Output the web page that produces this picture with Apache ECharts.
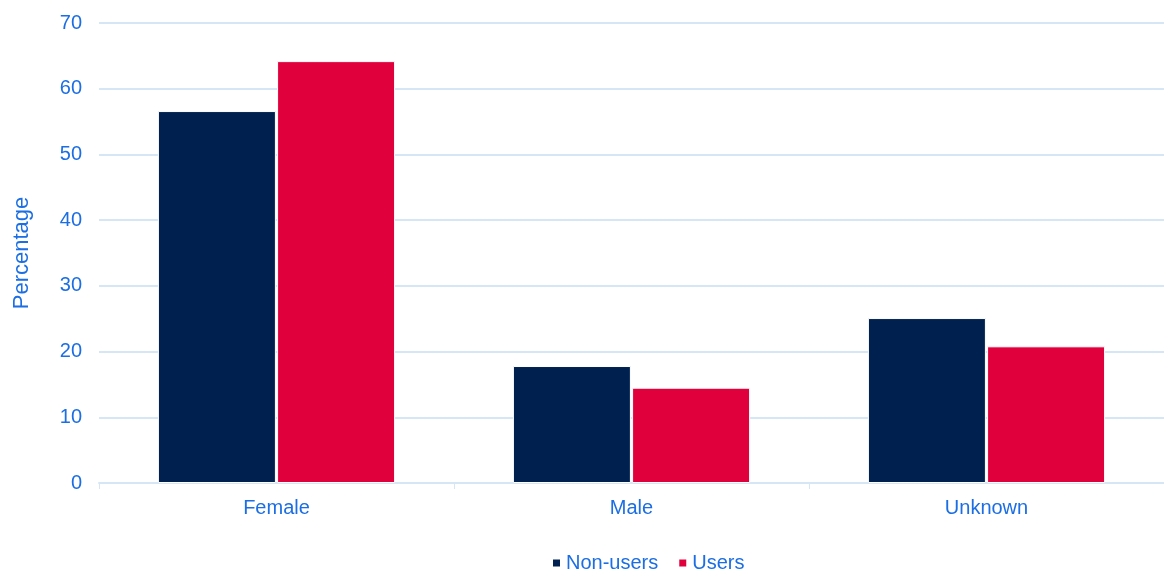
<!DOCTYPE html>
<html>
<head>
<meta charset="utf-8">
<style>
  html, body { margin: 0; padding: 0; background: #ffffff; }
  #chart { width: 1164px; height: 572px; }
</style>
<script src="https://cdn.jsdelivr.net/npm/echarts@6/dist/echarts.min.js"></script>
</head>
<body>
<div id="chart"></div>
<script>
// Gender breakdown of non-users and users (percent)
const categories = ['Female', 'Male', 'Unknown'];
const nonUsers = [56.6, 17.8, 25.1];
const users = [64.2, 14.5, 20.8];
const yTicks = { min: 0, max: 70, interval: 10 };

const textBlue = '#1b6ee3';
const gridBlue = '#d6e6f5';
const font = '"Liberation Sans", Arial, sans-serif';

const chart = echarts.init(document.getElementById('chart'), null, { renderer: 'canvas' });
chart.setOption({
  animation: false,
  textStyle: { fontFamily: font },
  grid: { left: 99, right: -3, top: 23, bottom: 89, containLabel: false },
  legend: {
    top: 548,
    left: 546,
    itemWidth: 9,
    itemHeight: 9,
    itemGap: 19,
    icon: 'rect',
    textStyle: { color: textBlue, fontSize: 20, fontFamily: font },
    data: ['Non-users', 'Users']
  },
  xAxis: {
    type: 'category',
    data: categories,
    axisLine: { show: true, lineStyle: { color: gridBlue, width: 2 } },
    axisTick: { show: true, length: 6, lineStyle: { color: gridBlue, width: 1 } },
    axisLabel: { color: textBlue, fontSize: 20, margin: 15, fontFamily: font },
    splitLine: { show: false }
  },
  yAxis: {
    type: 'value',
    min: yTicks.min,
    max: yTicks.max,
    interval: yTicks.interval,
    name: 'Percentage',
    nameLocation: 'middle',
    nameGap: 66,
    nameRotate: 90,
    nameTextStyle: { color: textBlue, fontSize: 22, fontFamily: font },
    axisLine: { show: false },
    axisTick: { show: false },
    axisLabel: { color: textBlue, fontSize: 20, margin: 17, fontFamily: font },
    splitLine: { show: true, lineStyle: { color: gridBlue, width: 2 } }
  },
  series: [
    {
      name: 'Non-users',
      type: 'bar',
      data: nonUsers,
      barWidth: 118,
      barGap: '1%',
      itemStyle: { color: '#00214f', borderColor: '#ffffff', borderWidth: 1 }
    },
    {
      name: 'Users',
      type: 'bar',
      data: users,
      barWidth: 118,
      itemStyle: { color: '#e0003c', borderColor: '#ffffff', borderWidth: 1 }
    }
  ]
});
</script>
</body>
</html>
